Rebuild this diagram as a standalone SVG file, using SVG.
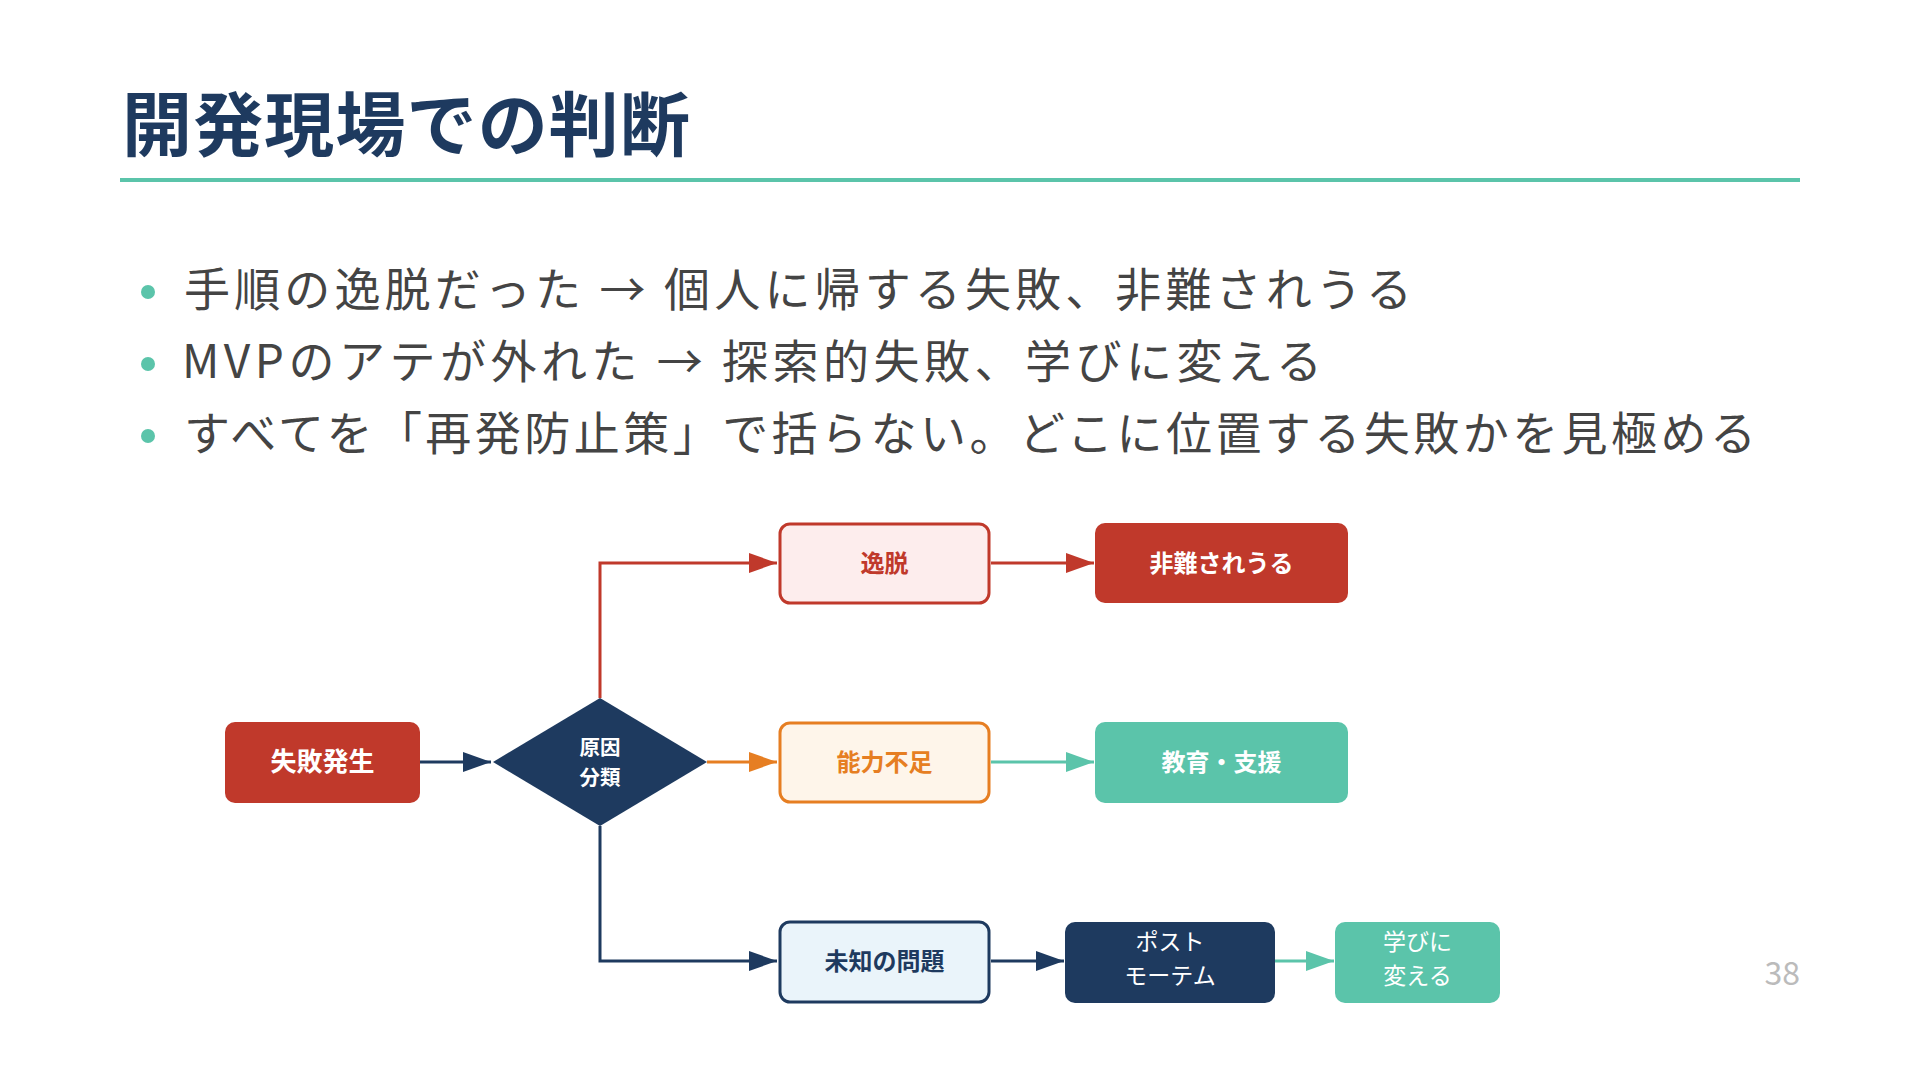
<svg xmlns="http://www.w3.org/2000/svg" width="1920" height="1080" viewBox="0 0 1920 1080">
  <style>
    .jp { font-family: "Noto Sans CJK JP", "Noto Sans", sans-serif; }
    .title { font-size: 70px; font-weight: 700; fill: #1E3A5F; }
    .bullet { font-size: 46px; font-weight: 400; fill: #444444; }
    .dot { fill: #5BC4AA; }
    .lbl { font-size: 24px; font-weight: 700; text-anchor: middle; }
    .lbl2 { font-size: 23px; font-weight: 400; text-anchor: middle; fill: #ffffff; }
    .w { fill: #ffffff; }
    .conn { fill: none; stroke-width: 3; }
  </style>
  <defs>
    <marker id="ah-navy" markerUnits="userSpaceOnUse" markerWidth="28" markerHeight="20" refX="28" refY="10" orient="auto">
      <path d="M0,0 L28,10 L0,20 z" fill="#1E3A5F"/>
    </marker>
    <marker id="ah-red" markerUnits="userSpaceOnUse" markerWidth="28" markerHeight="20" refX="28" refY="10" orient="auto">
      <path d="M0,0 L28,10 L0,20 z" fill="#C0392B"/>
    </marker>
    <marker id="ah-orange" markerUnits="userSpaceOnUse" markerWidth="28" markerHeight="20" refX="28" refY="10" orient="auto">
      <path d="M0,0 L28,10 L0,20 z" fill="#E67E22"/>
    </marker>
    <marker id="ah-teal" markerUnits="userSpaceOnUse" markerWidth="28" markerHeight="20" refX="28" refY="10" orient="auto">
      <path d="M0,0 L28,10 L0,20 z" fill="#5BC4AA"/>
    </marker>
  </defs>
  <rect width="1920" height="1080" fill="#ffffff"/>

  <g id="header">
    <text class="jp title" x="122" y="151" textLength="568">開発現場での判断</text>
    <rect x="120" y="178" width="1680" height="4" fill="#5BC4AA"/>
  </g>

  <g id="bullets">
    <circle class="dot" cx="148" cy="292" r="7"/>
    <text class="jp bullet" x="184" y="306" textLength="1228">手順の逸脱だった  →  個人に帰する失敗、非難されうる</text>
    <circle class="dot" cx="148" cy="364" r="7"/>
    <text class="jp bullet" x="182" y="378" textLength="1140">MVPのアテが外れた  →  探索的失敗、学びに変える</text>
    <circle class="dot" cx="148" cy="436" r="7"/>
    <text class="jp bullet" x="184" y="450" textLength="1572">すべてを「再発防止策」で括らない。どこに位置する失敗かを見極める</text>
  </g>

  <g id="connectors">
    <path class="conn" d="M420,762 H491" stroke="#1E3A5F" marker-end="url(#ah-navy)"/>
    <path class="conn" d="M600,698 V563 H777" stroke="#C0392B" marker-end="url(#ah-red)"/>
    <path class="conn" d="M707,762 H777" stroke="#E67E22" marker-end="url(#ah-orange)"/>
    <path class="conn" d="M600,826 V961 H777" stroke="#1E3A5F" marker-end="url(#ah-navy)"/>
    <path class="conn" d="M991,563 H1094" stroke="#C0392B" marker-end="url(#ah-red)"/>
    <path class="conn" d="M991,762 H1094" stroke="#5BC4AA" marker-end="url(#ah-teal)"/>
    <path class="conn" d="M991,961 H1064" stroke="#1E3A5F" marker-end="url(#ah-navy)"/>
    <path class="conn" d="M1275,961 H1334" stroke="#5BC4AA" marker-end="url(#ah-teal)"/>
  </g>

  <g id="node-failure">
    <rect x="225" y="722" width="195" height="81" rx="10" fill="#C0392B"/>
    <text class="jp lbl w" x="322.5" y="771" style="font-size:26px">失敗発生</text>
  </g>

  <g id="node-classify">
    <polygon points="600,698 707,762 600,826 493,762" fill="#1E3A5F"/>
    <text class="jp lbl w" x="600" y="755" style="font-size:20.5px">原因</text>
    <text class="jp lbl w" x="600" y="785" style="font-size:20.5px">分類</text>
  </g>

  <g id="node-deviation">
    <rect x="780" y="524" width="209" height="79" rx="10" fill="#FDEDED" stroke="#C0392B" stroke-width="3"/>
    <text class="jp lbl" x="884.5" y="572" fill="#C0392B">逸脱</text>
  </g>

  <g id="node-blame">
    <rect x="1095" y="523" width="253" height="80" rx="10" fill="#C0392B"/>
    <text class="jp lbl w" x="1221.5" y="572">非難されうる</text>
  </g>

  <g id="node-skill">
    <rect x="780" y="723" width="209" height="79" rx="10" fill="#FEF5EA" stroke="#E67E22" stroke-width="3"/>
    <text class="jp lbl" x="884.5" y="771" fill="#E67E22">能力不足</text>
  </g>

  <g id="node-education">
    <rect x="1095" y="722" width="253" height="81" rx="10" fill="#5BC4AA"/>
    <text class="jp lbl w" x="1221.5" y="771">教育・支援</text>
  </g>

  <g id="node-unknown">
    <rect x="780" y="922" width="209" height="80" rx="10" fill="#EAF4FA" stroke="#1E3A5F" stroke-width="3"/>
    <text class="jp lbl" x="884.5" y="970" fill="#1E3A5F">未知の問題</text>
  </g>

  <g id="node-postmortem">
    <rect x="1065" y="922" width="210" height="81" rx="10" fill="#1E3A5F"/>
    <text class="jp lbl2" x="1170" y="950">ポスト</text>
    <text class="jp lbl2" x="1170" y="984">モーテム</text>
  </g>

  <g id="node-learn">
    <rect x="1335" y="922" width="165" height="81" rx="10" fill="#5BC4AA"/>
    <text class="jp lbl2" x="1417.5" y="950">学びに</text>
    <text class="jp lbl2" x="1417.5" y="984">変える</text>
  </g>

  <text class="jp" x="1800" y="985" text-anchor="end" font-size="32" fill="#BBBBBB">38</text>
</svg>
